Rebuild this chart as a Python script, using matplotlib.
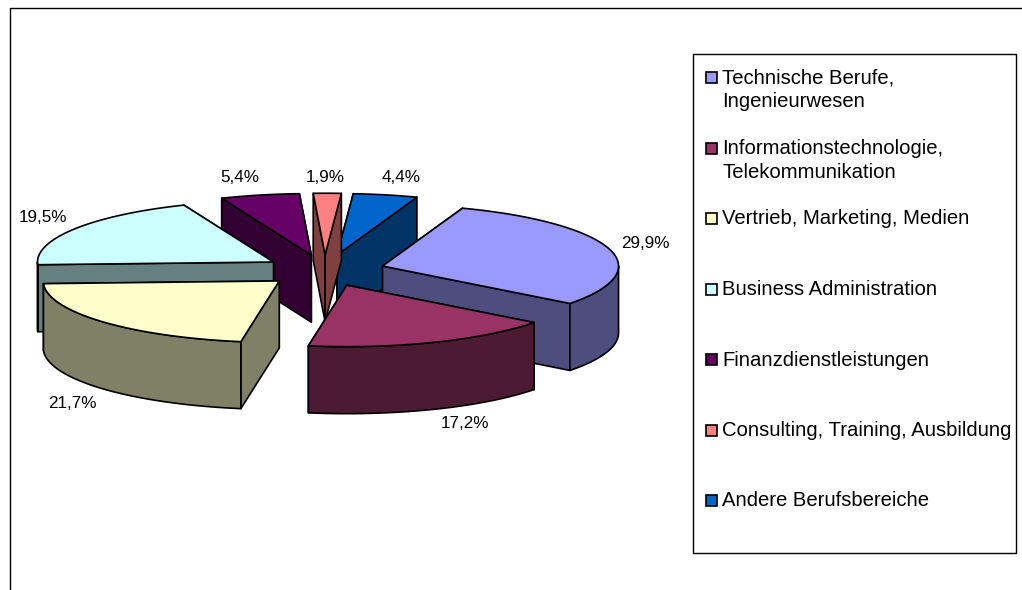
import numpy as np
import matplotlib
matplotlib.use('Agg')
import matplotlib.pyplot as plt
from matplotlib.patches import Polygon, Rectangle

plt.rcParams['font.family'] = ['Liberation Sans', 'DejaVu Sans']

categories = ['Technische Berufe,\nIngenieurwesen',
              'Informationstechnologie,\nTelekommunikation',
              'Vertrieb, Marketing, Medien',
              'Business Administration',
              'Finanzdienstleistungen',
              'Consulting, Training, Ausbildung',
              'Andere Berufsbereiche']
values = [29.9, 17.2, 21.7, 19.5, 5.4, 1.9, 4.4]
top_colors = ['#9999FF', '#993366', '#FFFFCC', '#CCFFFF', '#660066', '#FF8080', '#0066CC']
side_colors = ['#4D4D80', '#4D1A33', '#808066', '#668080', '#330033', '#804040', '#003366']

# pie geometry, in pixels of the picture
CX, CY = 324.5, 270.5
RX, RY = 236, 61.5
DEPTH = 67
EXPLODE = 60.5
START = 70.2

# order the slices get painted in, back to front
paint_order = [6, 5, 4, 3, 0, 1, 2]
label_pos = [(645, 243), (465, 423.5), (72, 404), (43, 218), (240, 177), (325, 177), (401, 177)]


def ell(x0, y0, t):
    t = np.radians(t)
    return x0 + RX * np.cos(t), y0 - RY * np.sin(t)


def add_poly(ax, pts, color):
    ax.add_patch(Polygon(pts, closed=True, facecolor=color, edgecolor='black',
                         linewidth=1.2, joinstyle='round'))


def draw_slice(ax, t0, t1, top, side):
    # t0 > t1, slices run clockwise
    mid = (t0 + t1) / 2
    x0 = CX + EXPLODE * np.cos(np.radians(mid))
    y0 = CY - EXPLODE * RY / RX * np.sin(np.radians(mid))
    ts = np.linspace(t0, t1, 80)
    xs, ys = ell(x0, y0, ts)

    # the two cut walls, the one further back first
    ends = sorted([t0, t1], key=lambda t: ell(x0, y0, t)[1])
    for t in ends:
        x, y = ell(x0, y0, t)
        add_poly(ax, [(x0, y0), (x, y), (x, y + DEPTH), (x0, y0 + DEPTH)], side)

    # outer rim, only the part that faces the viewer
    a = min(t0, 0)
    b = max(t1, -180)
    if a > b:
        tr = np.linspace(a, b, 60)
        rx, ry = ell(x0, y0, tr)
        add_poly(ax, list(zip(rx, ry)) + list(zip(rx[::-1], ry[::-1] + DEPTH)), side)

    add_poly(ax, [(x0, y0)] + list(zip(xs, ys)), top)


fig = plt.figure(figsize=(10.22, 5.9), dpi=100)
ax = fig.add_axes([0, 0, 1, 1])
ax.set_xlim(0, 1022)
ax.set_ylim(590, 0)
ax.axis('off')

# chart frame, only top and left are inside the picture
ax.plot([9.5, 9.5, 1022], [590, 8, 8], color='black', linewidth=1.0)

total = sum(values)
angles = [START]
for v in values:
    angles.append(angles[-1] - v / total * 360)

for i in paint_order:
    draw_slice(ax, angles[i], angles[i + 1], top_colors[i], side_colors[i])

for v, (x, y) in zip(values, label_pos):
    ax.text(x, y, f'{v:.1f}%'.replace('.', ','), fontsize=12.3, ha='center', va='center', color='black')

# legend
ax.add_patch(Rectangle((692.5, 53.5), 323.5, 499, facecolor='white', edgecolor='black', linewidth=1.0))
for i, cat in enumerate(categories):
    y = 77.5 + i * 70.5
    ax.add_patch(Rectangle((705.5, y - 5.5), 11, 11, facecolor=top_colors[i], edgecolor='black', linewidth=1.2))
    ax.text(722.5, y - 9, cat, fontsize=14.55, ha='left', va='top', color='black', linespacing=1.31)

fig.savefig('out.png', dpi=100)
plt.close()
